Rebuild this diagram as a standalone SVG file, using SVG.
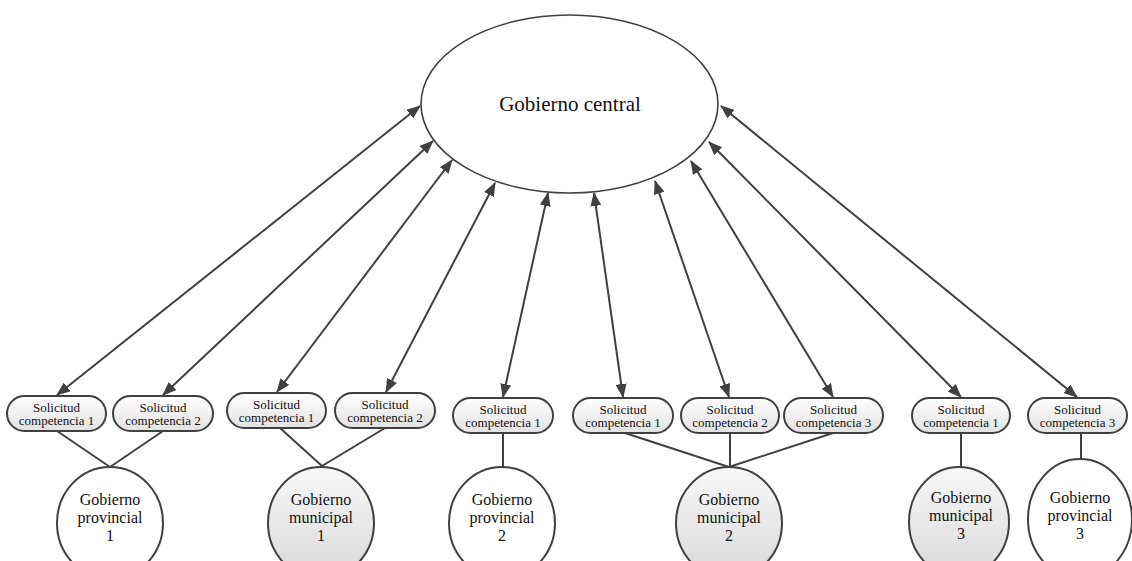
<svg xmlns="http://www.w3.org/2000/svg" width="1132" height="561" viewBox="0 0 1132 561">
  <defs>
    <linearGradient id="pillFill" x1="0" y1="0" x2="0" y2="1">
      <stop offset="0" stop-color="#ffffff"/>
      <stop offset="1" stop-color="#e2e2e2"/>
    </linearGradient>
    <linearGradient id="muniFill" x1="0" y1="0" x2="0" y2="1">
      <stop offset="0" stop-color="#f8f8f8"/>
      <stop offset="1" stop-color="#d9d9d9"/>
    </linearGradient>
    <marker id="head" viewBox="0 0 14 11" refX="13" refY="5.5" markerWidth="14" markerHeight="11" markerUnits="userSpaceOnUse" orient="auto-start-reverse">
      <path d="M0,0 L14,5.5 L0,11 z" fill="#404040"/>
    </marker>
  </defs>
  <style>
    .pill { fill: url(#pillFill); stroke: #404040; stroke-width: 2; }
    .prov { fill: #ffffff; stroke: #404040; stroke-width: 2; }
    .muni { fill: url(#muniFill); stroke: #404040; stroke-width: 2; }
    .central { fill: #ffffff; stroke: #404040; stroke-width: 1.6; }
    .link { stroke: #404040; stroke-width: 2; fill: none; }
    .arrow { stroke: #404040; stroke-width: 2; fill: none; marker-start: url(#head); marker-end: url(#head); }
    text { font-family: "Liberation Serif", "Times New Roman", serif; fill: #111111; text-anchor: middle; }
    .small { font-size: 13px; }
    .mid { font-size: 16px; }
    .big { font-size: 21px; }
  </style>

  <!-- connectors -->
  <g id="connectors">
    <line class="arrow" x1="420" y1="106" x2="57" y2="395"/>
    <line class="arrow" x1="433" y1="141" x2="163" y2="395"/>
    <line class="arrow" x1="452" y1="160" x2="277" y2="392"/>
    <line class="arrow" x1="495" y1="183" x2="386" y2="392"/>
    <line class="arrow" x1="548" y1="193" x2="503" y2="397"/>
    <line class="arrow" x1="594" y1="193" x2="623" y2="397"/>
    <line class="arrow" x1="655" y1="181" x2="729" y2="397"/>
    <line class="arrow" x1="691" y1="161" x2="833" y2="397"/>
    <line class="arrow" x1="709" y1="142" x2="961" y2="397"/>
    <line class="arrow" x1="721" y1="106" x2="1077" y2="397"/>

    <line class="link" x1="57" y1="431" x2="110" y2="467"/>
    <line class="link" x1="163" y1="431" x2="110" y2="467"/>
    <line class="link" x1="280" y1="428" x2="322" y2="466"/>
    <line class="link" x1="385" y1="428" x2="322" y2="466"/>
    <line class="link" x1="503" y1="433" x2="503" y2="467"/>
    <line class="link" x1="625" y1="433" x2="729" y2="467"/>
    <line class="link" x1="730" y1="433" x2="730" y2="467"/>
    <line class="link" x1="833" y1="433" x2="729" y2="467"/>
    <line class="link" x1="961" y1="433" x2="961" y2="467"/>
    <line class="link" x1="1081" y1="433" x2="1081" y2="460"/>
  </g>

  <!-- central node -->
  <g id="gobierno-central">
    <ellipse class="central" cx="569.5" cy="104" rx="148.5" ry="89"/>
    <text class="big" x="570" y="111">Gobierno central</text>
  </g>

  <!-- request pills -->
  <g id="sol-p1-c1">
    <rect class="pill" x="7" y="396" width="99" height="35" rx="17.5"/>
    <text class="small" x="56.5" y="412">Solicitud</text>
    <text class="small" x="56.5" y="425">competencia 1</text>
  </g>
  <g id="sol-p1-c2">
    <rect class="pill" x="113" y="396" width="100" height="35" rx="17.5"/>
    <text class="small" x="163" y="412">Solicitud</text>
    <text class="small" x="163" y="425">competencia 2</text>
  </g>
  <g id="sol-m1-c1">
    <rect class="pill" x="227" y="393" width="99" height="35" rx="17.5"/>
    <text class="small" x="276.5" y="409">Solicitud</text>
    <text class="small" x="276.5" y="422">competencia 1</text>
  </g>
  <g id="sol-m1-c2">
    <rect class="pill" x="335" y="393" width="100" height="35" rx="17.5"/>
    <text class="small" x="385" y="409">Solicitud</text>
    <text class="small" x="385" y="422">competencia 2</text>
  </g>
  <g id="sol-p2-c1">
    <rect class="pill" x="453" y="398" width="100" height="35" rx="17.5"/>
    <text class="small" x="503" y="414">Solicitud</text>
    <text class="small" x="503" y="427">competencia 1</text>
  </g>
  <g id="sol-m2-c1">
    <rect class="pill" x="573" y="398" width="100" height="35" rx="17.5"/>
    <text class="small" x="623" y="414">Solicitud</text>
    <text class="small" x="623" y="427">competencia 1</text>
  </g>
  <g id="sol-m2-c2">
    <rect class="pill" x="681" y="398" width="98" height="35" rx="17.5"/>
    <text class="small" x="730" y="414">Solicitud</text>
    <text class="small" x="730" y="427">competencia 2</text>
  </g>
  <g id="sol-m2-c3">
    <rect class="pill" x="784" y="398" width="99" height="35" rx="17.5"/>
    <text class="small" x="833.5" y="414">Solicitud</text>
    <text class="small" x="833.5" y="427">competencia 3</text>
  </g>
  <g id="sol-m3-c1">
    <rect class="pill" x="912" y="398" width="98" height="35" rx="17.5"/>
    <text class="small" x="961" y="414">Solicitud</text>
    <text class="small" x="961" y="427">competencia 1</text>
  </g>
  <g id="sol-p3-c3">
    <rect class="pill" x="1028" y="398" width="99" height="35" rx="17.5"/>
    <text class="small" x="1077.5" y="414">Solicitud</text>
    <text class="small" x="1077.5" y="427">competencia 3</text>
  </g>

  <!-- local governments -->
  <g id="gobierno-provincial-1">
    <ellipse class="prov" cx="110" cy="523" rx="53" ry="56"/>
    <text class="mid" x="110" y="505">Gobierno</text>
    <text class="mid" x="110" y="523">provincial</text>
    <text class="mid" x="110" y="541">1</text>
  </g>
  <g id="gobierno-municipal-1">
    <ellipse class="muni" cx="321" cy="523" rx="53" ry="56"/>
    <text class="mid" x="321" y="505">Gobierno</text>
    <text class="mid" x="321" y="523">municipal</text>
    <text class="mid" x="321" y="541">1</text>
  </g>
  <g id="gobierno-provincial-2">
    <ellipse class="prov" cx="502" cy="523" rx="53" ry="56"/>
    <text class="mid" x="502" y="505">Gobierno</text>
    <text class="mid" x="502" y="523">provincial</text>
    <text class="mid" x="502" y="541">2</text>
  </g>
  <g id="gobierno-municipal-2">
    <ellipse class="muni" cx="729" cy="523" rx="53" ry="56"/>
    <text class="mid" x="729" y="505">Gobierno</text>
    <text class="mid" x="729" y="523">municipal</text>
    <text class="mid" x="729" y="541">2</text>
  </g>
  <g id="gobierno-municipal-3">
    <ellipse class="muni" cx="959" cy="522" rx="50" ry="55"/>
    <text class="mid" x="961" y="503">Gobierno</text>
    <text class="mid" x="961" y="521">municipal</text>
    <text class="mid" x="961" y="539">3</text>
  </g>
  <g id="gobierno-provincial-3">
    <ellipse class="prov" cx="1080" cy="519" rx="52" ry="60"/>
    <text class="mid" x="1080" y="503">Gobierno</text>
    <text class="mid" x="1080" y="521">provincial</text>
    <text class="mid" x="1080" y="539">3</text>
  </g>
</svg>
